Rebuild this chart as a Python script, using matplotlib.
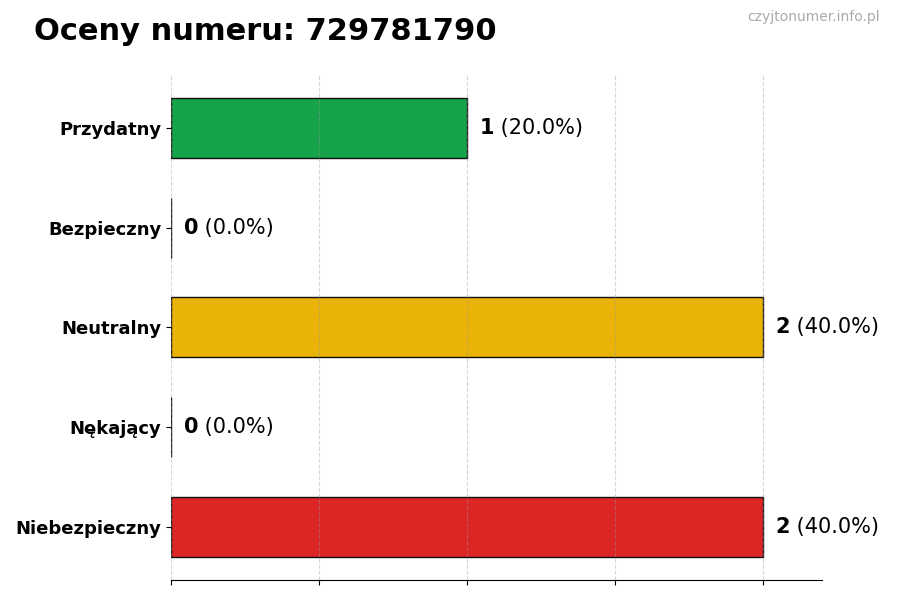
import matplotlib
matplotlib.use("Agg")
import matplotlib.pyplot as plt

categories = ["Przydatny", "Bezpieczny", "Neutralny", "Nękający", "Niebezpieczny"]
counts = [1, 0, 2, 0, 2]
colors = ["#16a34a", "#16a34a", "#eab308", "#dc2626", "#dc2626"]
title = "Oceny numeru: 729781790"
watermark = "czyjtonumer.info.pl"

total = sum(counts)

fig = plt.figure(figsize=(9, 6), dpi=100)
ax = fig.add_axes([0.19, 0.0333, 0.723, 0.842])

ypos = list(range(len(categories)))
ax.barh(ypos, counts, height=0.6, color=colors, edgecolor="#111111", linewidth=1, zorder=2)
ax.invert_yaxis()
ax.set_xlim(0, 2.2)
ax.set_xticks([0, 0.5, 1, 1.5, 2])
ax.set_xticklabels([])
ax.set_yticks(ypos)
ax.set_yticklabels(categories, fontsize=13, fontweight="bold")
ax.grid(axis="x", linestyle="--", color="#999999", alpha=0.4, linewidth=0.8, zorder=3)
ax.set_axisbelow(False)
for s in ("top", "right", "left"):
    ax.spines[s].set_visible(False)

for y, c in zip(ypos, counts):
    pct = c / total * 100
    t = ax.text(c + 0.043, y, str(c), va="center", ha="left", fontsize=15, fontweight="bold")
    ax.annotate(f" ({pct:.1f}%)", xy=(1, 0.5), xycoords=t, va="center", ha="left", fontsize=15)

fig.text(0.038, 0.948, title, fontsize=22, fontweight="bold", va="center", ha="left")
fig.text(0.978, 0.971, watermark, fontsize=10, color="#aaaaaa", va="center", ha="right")

fig.savefig("out.png", dpi=100)
